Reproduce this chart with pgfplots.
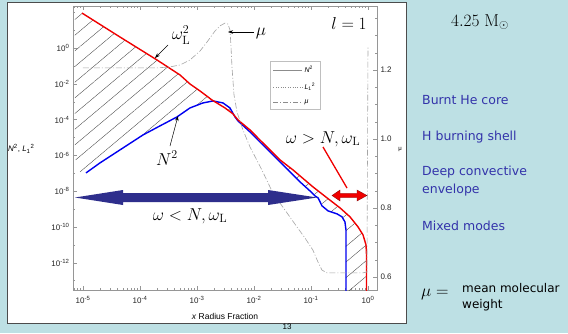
\documentclass[border=0pt]{standalone}
\usepackage[no-math]{fontspec}
\setmainfont{Liberation Sans}
\newfontfamily\comic{DejaVu Sans}
\usepackage{pgfplots}
\pgfplotsset{compat=1.18}
\usetikzlibrary{patterns.meta,arrows.meta}
\definecolor{bgblue}{RGB}{189,224,228}
\definecolor{txtblue}{RGB}{51,51,170}
\definecolor{navyarrow}{RGB}{46,46,140}
\definecolor{cred}{RGB}{240,0,0}
\definecolor{cblue}{RGB}{0,0,240}
\definecolor{axgray}{RGB}{150,150,150}
\definecolor{mugray}{RGB}{165,165,165}
\begin{document}
\begin{tikzpicture}
\fill[bgblue] (0,0) rectangle (568pt,333pt);
\begin{scope}[x=1pt,y=-1pt,yshift=333pt]
  \fill[white] (7,2.5) rectangle (406,323);
\end{scope}

\begin{axis}[
  at={(73pt,43pt)}, anchor=south west, scale only axis,
  width=304pt, height=284pt,
  xmode=log, ymode=log,
  xmin=6.68e-6, xmax=1.439, ymin=3.02e-14, ymax=222,
  axis line style={draw=axgray},
  tick align=inside, tick style={axgray, line width=0.4pt},
  major tick length=4pt, minor tick length=2pt,
  xtick={1e-5,1e-4,1e-3,1e-2,1e-1,1},
  xticklabels={10\textsuperscript{-5},10\textsuperscript{-4},10\textsuperscript{-3},10\textsuperscript{-2},10\textsuperscript{-1},10\textsuperscript{0}},
  minor xtick={7e-6,8e-6,9e-6,2e-5,3e-5,4e-5,5e-5,6e-5,7e-5,8e-5,9e-5,2e-4,3e-4,4e-4,5e-4,6e-4,7e-4,8e-4,9e-4,2e-3,3e-3,4e-3,5e-3,6e-3,7e-3,8e-3,9e-3,2e-2,3e-2,4e-2,5e-2,6e-2,7e-2,8e-2,9e-2,0.2,0.3,0.4,0.5,0.6,0.7,0.8,0.9},
  ytick={1e-12,1e-10,1e-8,1e-6,1e-4,1e-2,1},
  yticklabels={10\textsuperscript{-12},10\textsuperscript{-10},10\textsuperscript{-8},10\textsuperscript{-6},10\textsuperscript{-4},10\textsuperscript{-2},10\textsuperscript{0}},
  minor ytick={1e-13,1e-11,1e-9,1e-7,1e-5,1e-3,1e-1,10,100},
  ytick pos=left, xtick pos=both,
  ticklabel style={font=\fontsize{8}{9}\selectfont, text=black!85},
  xticklabel style={yshift=-3pt},
  legend style={at={(0.648,0.806)}, anchor=north west, draw=black!25, fill=white,
    font=\fontsize{7}{8}\selectfont, inner xsep=3pt, inner ysep=3pt, row sep=4.5pt},
  legend cell align=left,
  legend image code/.code={\draw[#1] (0pt,0pt) -- (29pt,0pt);},
]
\addlegendimage{black!45, line width=0.4pt}
\addlegendentry{\textit{N}\textsuperscript{2}}
\addlegendimage{black!45, dotted, line width=0.4pt}
\addlegendentry{\textit{L}\textsubscript{1}\textsuperscript{2}}
\addlegendimage{black!45, dash pattern=on 5pt off 2pt on 1pt off 2pt, line width=0.4pt}
\addlegendentry{\textit{μ}}

% hatched evanescent regions
\addplot[draw=none, pattern={Lines[angle=40,distance=12pt,line width=0.35pt]}, pattern color=black!75] coordinates {
(7.24e-6,150) (9.60e-6,89.8) (4.46e-5,4.11) (1.99e-4,0.214) (5.04e-4,0.0311) (7.53e-4,9.79e-3) (1.13e-3,3.98e-3) (1.83e-3,1.25e-3) (1.27e-3,8.51e-4) (7.53e-4,4.48e-4) (4.46e-4,1.41e-4) (2.24e-4,4.44e-5) (1.13e-4,1.39e-5) (4.46e-5,2.03e-6) (1.99e-5,3.82e-7) (1.13e-5,1.05e-7) (9.60e-6,6.31e-8) (7.24e-6,7.26e-7)
};
\addplot[draw=none, pattern={Lines[angle=40,distance=12pt,line width=0.35pt]}, pattern color=black!75] coordinates {
(1.91e-3,1.10e-3) (2.86e-3,8.51e-4) (3.79e-3,4.48e-4) (4.64e-3,1.41e-4) (5.24e-3,8.43e-5) (4.29e-3,2.07e-4) (3.10e-3,4.48e-4) (1.83e-3,1.25e-3)
};
\addplot[draw=none, pattern={Lines[angle=40,distance=12pt,line width=0.35pt]}, pattern color=black!75] coordinates {
(3.94e-2,2.60e-7) (4.83e-2,1.55e-7) (6.41e-2,7.18e-8) (0.108,1.75e-8) (0.191,4.25e-9) (0.323,1.17e-9) (0.483,3.70e-10) (0.668,1.02e-10) (0.817,3.66e-11) (0.923,1.01e-11) (0.942,2.80e-12) (0.942,1e-15) (0.411,1e-15) (0.411,6.95e-11) (0.394,1.94e-10) (0.350,3.70e-10) (0.286,5.43e-10) (0.199,7.98e-10) (0.156,1.52e-9) (0.133,4.25e-9) (0.117,5.49e-9) (9.59e-2,1.04e-8) (6.41e-2,3.32e-8) (3.94e-2,1.55e-7)
};

% N^2
\addplot[cblue, line width=1.4pt] coordinates {
(1.13e-5,1.05e-7) (1.99e-5,3.82e-7) (4.46e-5,2.03e-6) (1.13e-4,1.39e-5) (2.24e-4,4.44e-5) (4.46e-4,1.41e-4) (7.53e-4,4.48e-4) (1.27e-3,8.51e-4) (1.91e-3,1.10e-3) (2.86e-3,8.51e-4) (3.79e-3,4.48e-4) (4.64e-3,1.41e-4) (5.24e-3,8.43e-5) (8.51e-3,2.05e-5) (1.27e-2,5.67e-6) (1.91e-2,1.57e-6) (2.86e-2,4.34e-7) (3.94e-2,1.55e-7) (6.41e-2,3.32e-8) (9.59e-2,1.04e-8) (0.117,5.49e-9) (0.133,4.25e-9) (0.156,1.52e-9) (0.199,7.98e-10) (0.286,5.43e-10) (0.350,3.70e-10) (0.394,1.94e-10) (0.411,6.95e-11) (0.411,1e-15)
};
% omega_L^2 (L_1^2)
\addplot[cred, line width=1.4pt] coordinates {
(9.60e-6,89.8) (4.46e-5,4.11) (1.99e-4,0.214) (5.04e-4,0.0311) (7.53e-4,9.79e-3) (1.13e-3,3.98e-3) (1.83e-3,1.25e-3) (3.10e-3,4.48e-4) (4.29e-3,2.07e-4) (5.24e-3,9.58e-5) (8.51e-3,2.65e-5) (1.27e-2,7.33e-6) (1.91e-2,2.03e-6) (2.86e-2,5.61e-7) (4.83e-2,1.55e-7) (6.41e-2,7.18e-8) (0.108,1.75e-8) (0.191,4.25e-9) (0.323,1.17e-9) (0.483,3.70e-10) (0.668,1.02e-10) (0.817,3.66e-11) (0.923,1.01e-11) (0.942,2.80e-12) (0.942,1e-15)
};
\end{axis}

\begin{axis}[
  at={(73pt,43pt)}, anchor=south west, scale only axis,
  width=304pt, height=284pt,
  xmode=log, xmin=6.68e-6, xmax=1.439,
  ymin=0.5623, ymax=1.3855,
  axis x line=none, axis y line*=right,
  axis line style={draw=axgray},
  tick align=inside, tick style={axgray, line width=0.4pt},
  major tick length=4pt, minor tick length=2pt,
  ytick={0.6,0.8,1.0,1.2}, yticklabels={0.6,0.8,1.0,1.2},
  minor ytick={0.65,0.7,0.75,0.85,0.9,0.95,1.05,1.1,1.15,1.25,1.3,1.35},
  ticklabel style={font=\fontsize{8}{9}\selectfont, text=black!85},
]
\addplot[mugray, line width=0.6pt, dash pattern=on 6pt off 2pt on 1pt off 2pt] coordinates {
(1e-5,1.206) (1.99e-4,1.206) (3.36e-4,1.209) (5.04e-4,1.2145) (7.53e-4,1.229) (1.13e-3,1.255) (1.50e-3,1.281) (2.07e-3,1.313) (2.54e-3,1.328) (3.10e-3,1.336) (3.50e-3,1.333) (3.79e-3,1.316) (3.94e-3,1.272) (4.11e-3,1.209) (4.46e-3,1.128) (5.04e-3,1.078) (6.41e-3,1.026) (8.51e-3,0.977) (1.38e-2,0.910) (2.15e-2,0.843) (3.50e-2,0.794) (5.68e-2,0.745) (7.85e-2,0.713) (0.108,0.678) (0.133,0.643) (0.156,0.620) (0.191,0.612) (0.817,0.612) (0.959,0.6145) (1.0,1.267)
};
\end{axis}

\begin{scope}[x=1pt,y=-1pt,yshift=333pt]
  \draw[black!70, line width=0.8pt] (7,2.5) rectangle (406,323);
  % annotations
  \node[font=\fontsize{17.28}{20}\selectfont] at (181,35) {$\omega_{\mathrm L}^2$};
  \draw[-{Stealth[length=5pt,width=3.5pt]}, line width=0.5pt] (168,45) -- (155,58);
  \node[font=\fontsize{17.28}{20}\selectfont] at (261,33) {$\mu$};
  \draw[-{Stealth[length=5pt,width=3.5pt]}, line width=0.5pt] (254,32) -- (228,32);
  \node[font=\fontsize{17.28}{20}\selectfont] at (349,24) {$l=1$};
  \node[font=\fontsize{17.28}{20}\selectfont] at (167,158) {$N^2$};
  \draw[-{Stealth[length=5pt,width=3.5pt]}, line width=0.5pt] (170,146) -- (178,116);
  \node[font=\fontsize{17.28}{20}\selectfont] at (190,216) {$\omega < N,\omega_{\mathrm L}$};
  \node[font=\fontsize{17.28}{20}\selectfont] at (323,139) {$\omega > N,\omega_{\mathrm L}$};
  \draw[cred, line width=1.3pt] (323,147) -- (347,188);
  \fill[navyarrow] (75,197.5) -- (123,190) -- (123,193) -- (268,193) -- (268,190) -- (317,197.5) -- (268,205) -- (268,202) -- (123,202) -- (123,205) -- cycle;
  \filldraw[fill=cred, draw=red!50!black, line width=0.3pt] (332,195.5) -- (340,190) -- (340,193.3) -- (357,193.3) -- (357,190) -- (367,195.5) -- (357,201) -- (357,197.7) -- (340,197.7) -- (340,201) -- cycle;
  % axis labels
  \node[anchor=west, font=\fontsize{8}{9}\selectfont, inner sep=0pt] at (8,149) {\textit{N}\textsuperscript{2}, \textit{L}\textsubscript{1}\textsuperscript{2}};
  \node[font=\fontsize{8.5}{10}\selectfont] at (225,316) {\textit{x} Radius Fraction};
  \node[font=\fontsize{6}{7}\selectfont] at (400,149) {μ};
  \node[font=\fontsize{8}{9}\selectfont] at (287,327) {13};
  % right panel
  \node[font=\fontsize{17.28}{20}\selectfont] at (480,22) {$4.25\ \mathrm{M}_{\odot}$};
  \begin{scope}[every node/.style={anchor=west, text=txtblue, font=\comic\fontsize{12.5}{15}\selectfont, inner sep=0pt}]
    \node at (422,100) {Burnt He core};
    \node at (422,137) {H burning shell};
    \node at (422,172) {Deep convective};
    \node at (422,190) {envelope};
    \node at (422,226) {Mixed modes};
  \end{scope}
  \node[anchor=west, font=\fontsize{17.28}{19}\selectfont, inner sep=0pt] at (421,294) {$\mu =$};
  \node[anchor=west, align=left, font=\comic\fontsize{12}{16}\selectfont, inner sep=0pt] at (462,297) {mean molecular\\weight};
\end{scope}
\pgfresetboundingbox
\useasboundingbox (0,0) rectangle (568pt,333pt);
\end{tikzpicture}
\end{document}
